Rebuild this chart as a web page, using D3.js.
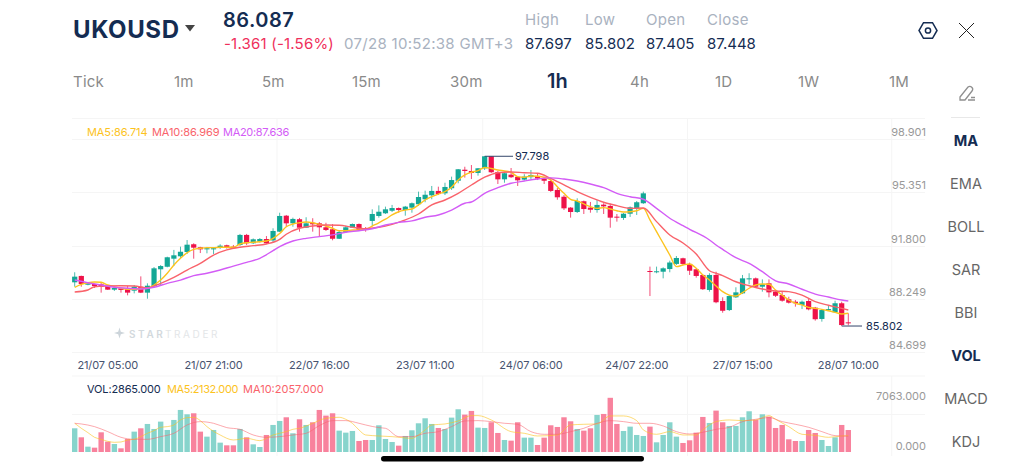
<!DOCTYPE html>
<html>
<head>
<meta charset="utf-8">
<script src="https://d3js.org/d3.v7.min.js"></script>
<style>
html, body { margin: 0; padding: 0; background: #fff; overflow: hidden; }
svg { display: block; font-family: Inter, "Open Sans", sans-serif; }
</style>
</head>
<body>
<svg id="chart" width="1024" height="471"></svg>
<script>
// candles
const opens = [88.89,89.34,88.72,88.77,88.75,88.63,88.37,88.47,88.40,88.30,88.58,88.16,88.63,89.81,89.99,90.56,90.73,91.03,91.58,91.37,91.22,91.22,91.34,91.51,91.41,91.53,92.24,91.65,91.76,91.95,91.85,92.47,93.60,93.06,93.35,92.75,93.10,93.06,92.78,92.64,91.97,92.45,92.75,93.01,92.71,93.23,93.58,93.77,93.95,94.14,94.00,94.17,94.41,94.76,95.04,95.35,95.18,95.54,96.07,96.85,96.76,96.62,96.95,97.80,96.69,96.17,96.50,96.34,96.15,96.32,96.41,96.24,96.05,95.42,94.94,94.17,93.86,94.62,94.17,94.00,94.38,94.29,93.53,93.44,93.74,94.12,94.48,89.69,89.62,89.64,89.83,90.19,90.59,90.19,89.81,89.41,88.35,89.41,87.57,86.93,87.83,88.11,89.10,89.17,88.58,88.82,88.23,87.99,87.69,87.52,87.29,87.57,87.10,86.30,86.91,86.77,87.41,86.06];
const closes = [89.29,88.77,88.82,88.63,88.58,88.37,88.49,88.35,88.16,88.58,88.16,88.65,89.88,90.04,90.66,90.80,91.05,91.55,91.34,91.22,91.30,91.30,91.48,91.37,91.35,92.24,91.65,91.93,91.95,91.65,92.52,93.58,93.06,93.37,92.75,93.06,92.99,92.78,92.59,91.97,92.45,92.78,93.01,92.59,92.64,93.72,93.88,94.05,94.14,94.00,94.24,94.48,94.92,95.08,95.35,95.13,95.63,96.12,96.88,96.76,96.62,96.95,97.80,96.67,96.17,96.60,96.32,96.10,96.36,96.48,96.22,96.07,95.35,94.90,94.12,93.86,94.64,94.07,94.02,94.36,94.26,93.46,93.46,93.74,94.19,94.55,95.18,89.62,89.67,89.88,90.29,90.61,90.19,89.71,89.34,88.40,89.41,87.48,86.88,87.92,88.18,89.17,89.17,88.58,88.75,88.18,87.94,87.59,87.45,87.41,87.52,86.98,86.28,86.93,87.00,87.41,85.87,85.99];
const highs = [89.60,89.36,88.86,88.80,88.84,88.70,88.56,88.50,88.63,88.70,89.31,88.82,89.97,90.11,90.70,91.18,91.41,91.88,91.65,91.40,91.39,91.34,91.58,91.55,91.53,92.31,92.31,91.99,92.02,92.16,92.71,93.81,93.65,93.46,93.44,93.49,93.42,93.15,93.10,93.01,92.52,92.89,93.05,93.05,92.80,94.05,94.33,94.24,94.36,94.18,94.29,94.53,95.30,95.37,95.70,95.65,95.93,96.36,96.90,97.06,97.18,96.97,97.80,97.80,96.76,96.71,96.97,96.37,96.53,96.83,96.55,96.34,96.27,95.56,95.06,94.21,94.83,94.67,94.57,94.71,94.48,94.45,93.72,93.79,94.25,94.64,95.30,90.00,90.00,89.95,90.42,90.75,90.63,90.28,89.85,89.43,89.53,89.64,87.83,87.99,88.54,89.41,89.53,89.23,89.10,89.10,88.27,88.23,87.87,87.64,87.60,87.78,87.15,87.00,87.22,87.59,87.52,86.70];
const lows = [88.58,88.58,88.68,88.49,88.16,88.35,88.28,88.16,87.97,88.11,88.13,87.73,88.56,88.63,89.95,90.04,90.59,90.89,90.56,90.96,90.94,90.89,91.25,91.27,91.25,91.46,91.53,91.60,91.70,91.60,91.67,92.45,92.82,92.82,92.47,92.73,92.47,92.12,92.52,91.86,91.95,92.38,92.73,92.52,92.47,92.89,93.46,93.72,93.86,93.81,93.60,93.81,94.29,94.55,94.76,95.06,95.06,95.42,95.89,96.29,96.19,96.43,96.83,96.62,95.84,95.93,96.27,95.70,96.09,96.17,96.12,95.84,95.28,94.73,94.00,93.46,93.79,93.72,93.81,93.81,93.72,92.75,93.18,93.30,93.51,93.65,94.43,87.92,89.53,89.17,89.60,90.11,90.11,89.41,89.22,88.35,88.23,87.41,86.74,86.86,87.78,88.06,88.75,88.49,88.23,87.83,87.85,87.52,87.39,87.17,87.00,86.91,86.18,86.11,86.86,86.72,85.80,85.85];

const ma5 = [88.54,88.75,88.86,88.91,88.89,88.70,88.58,88.47,88.40,88.40,88.44,88.47,88.70,89.05,89.53,90.11,90.59,90.98,91.22,91.30,91.34,91.34,91.37,91.37,91.37,91.60,91.69,91.72,91.76,91.81,92.00,92.34,92.82,93.01,93.10,93.15,93.10,92.99,92.87,92.71,92.54,92.54,92.59,92.59,92.64,92.87,93.10,93.35,93.65,93.88,94.00,94.07,94.36,94.71,94.94,95.13,95.30,95.61,96.12,96.48,96.67,96.78,97.01,96.94,96.83,96.76,96.67,96.36,96.32,96.41,96.39,96.32,96.12,95.65,95.18,94.76,94.64,94.43,94.24,94.12,94.17,94.07,93.95,93.86,93.88,93.95,94.12,93.30,92.47,91.65,90.82,90.00,90.11,90.19,89.88,89.41,89.05,88.63,88.23,87.99,87.92,88.16,88.47,88.70,88.77,88.75,88.35,87.99,87.64,87.41,87.29,87.12,87.05,86.98,86.88,86.77,86.65,86.70];

const ma10Idx = [0,2,3,5,7,9,11,13,15,17,19,21,23,25,27,29,31,32,34,36,38,40,42,44,46,48,50,52,54,56,58,60,62,64,66,68,70,72,74,76,78,80,82,84,86,88,90,92,94,96,97,98,100,102,104,106,108,110,112,114,116,117];
const ma10 = [88.21,88.35,88.58,88.63,88.65,88.63,88.49,88.82,89.24,89.76,90.23,90.82,91.18,91.37,91.48,91.60,91.93,92.29,92.71,92.87,92.94,92.92,92.78,92.68,92.78,92.99,93.30,93.72,94.36,94.71,95.18,95.77,96.32,96.64,96.69,96.64,96.60,96.24,95.77,95.30,94.90,94.55,94.31,94.12,94.14,93.18,92.24,91.67,90.89,89.71,89.53,89.36,88.93,88.65,88.42,88.28,88.23,87.99,87.52,87.27,87.05,86.93];

const ma20Idx = [0,2,4,6,8,10,12,14,16,18,20,22,24,26,28,30,31,33,35,37,39,41,43,45,47,49,51,53,55,57,59,60,62,64,66,68,70,72,74,76,78,80,82,84,86,88,90,92,93,96,97,98,100,102,104,106,108,110,112,114,116,117];
const ma20 = [89.05,88.86,88.70,88.54,88.47,88.42,88.54,88.82,89.05,89.36,89.53,89.76,90.04,90.30,90.59,91.13,91.41,91.81,92.00,92.12,92.24,92.43,92.54,92.68,92.94,93.13,93.23,93.49,93.65,94.00,94.48,94.57,95.18,95.58,95.89,96.05,96.19,96.27,96.19,96.05,95.84,95.58,95.18,94.94,94.76,94.12,93.42,92.89,92.64,91.88,91.53,91.22,90.63,90.23,89.64,89.00,88.77,88.40,88.06,87.85,87.64,87.57];

const volumes = [3089,1914,696,566,2567,1349,1044,479,1697,2654,3089,3654,3002,3959,2871,4176,5481,4916,5046,2654,2001,2871,1218,870,870,3002,1914,1001,653,2219,3524,4046,4524,2436,4263,3524,3872,5481,4742,5046,2784,2523,2741,1436,1566,1566,3480,1697,1305,827,2088,2828,3741,4394,3654,3132,3002,4481,5568,4872,5351,3176,3132,3872,2480,1566,1479,3872,1871,1871,914,1871,3480,3263,4524,4002,3002,2784,3089,4829,4959,7063,3654,2741,3306,2219,2088,3306,1262,2219,3872,2001,1175,1523,2523,4568,3785,5394,3872,3393,3393,4524,5307,4176,4916,4611,3132,3524,1653,1436,1436,2871,2480,1566,783,1914,3524,2865];

const volMa5Idx = [0,1,2,3,4,5,6,7,8,9,10,11,12,13,14,15,16,17,18,19,20,22,24,26,28,30,32,33,34,36,38,40,41,42,43,44,46,48,51,52,53,54,56,58,60,61,63,66,68,70,73,75,77,79,81,83,85,86,88,90,92,94,95,96,97,99,101,103,105,106,108,110,112,114,116,117];
const volMa5 = [3741,3089,2523,1914,1653,1392,1262,1305,1566,1653,2001,2436,2784,3219,3306,3524,4176,4481,4524,4089,3306,2219,1566,1784,1479,2219,2654,2958,3089,3741,4394,4524,4263,3741,2871,2219,2088,2001,1784,2219,2871,3524,3654,4046,4742,4742,4176,2654,2436,2088,2219,3524,3611,3654,4698,4698,4089,2871,2306,2654,2219,2219,2871,3524,3959,4176,4089,4176,4742,4263,3306,2306,2175,1914,2088,2132];

const volMa10Idx = [0,1,3,5,7,9,11,13,15,17,19,21,23,25,27,29,31,33,35,37,39,41,43,44,46,47,49,51,53,55,57,59,61,63,65,67,69,71,73,75,77,79,81,83,85,87,89,91,93,95,97,99,101,103,105,107,109,111,113,115,117];
const volMa10 = [3741,3654,3306,2654,1914,1653,1653,2001,2436,3524,3959,3741,3176,2958,2219,1914,2001,2219,2436,3437,4089,4089,3741,3524,3176,3089,2001,2001,2436,2654,3306,4046,4089,3959,3741,3611,2654,2306,2306,2654,3089,3741,4089,3959,3741,3741,3393,2654,2349,2567,2958,3219,3959,4263,4481,3959,3611,3219,2654,2132,2057];

const xTickIdx = [5,21,37,53,69,85,101,117];
const xTickLabels = ["21/07 05:00","21/07 21:00","22/07 16:00","23/07 11:00","24/07 06:00","24/07 22:00","27/07 15:00","28/07 10:00"];
const priceTicks = [98.901,95.351,91.800,88.249,84.699];
const gridX = [277,482.7,687.5,891.7];
const timeframes = ["Tick","1m","5m","15m","30m","1h","4h","1D","1W","1M"];
const timeframeX = [73,174,262,352,450,547,630,715,798,889];
const indicators = ["MA","EMA","BOLL","SAR","BBI","VOL","MACD","KDJ"];

const UP = "#13a796", DOWN = "#ee1249", NAVY = "#142c52", GREY = "#a9b2c0";
const C5 = "#fcc31e", C10 = "#f9636b", C20 = "#d35cf6";

const svg = d3.select("#chart");

const xScale = d3.scalePoint().domain(d3.range(opens.length)).range([74.7, 848.3]);
const yScale = d3.scaleLinear().domain([85.802, 97.798]).range([326, 156.3]);
const gridY = d3.scaleLinear().domain([84.699, 98.901]).range([352, 139]);
const volY = d3.scaleLinear().domain([0, 7063]).range([452, 397.8]);

function label(x, y, str, size, color, opts) {
    opts = opts || {};
    return svg.append("text")
        .attr("x", x).attr("y", y)
        .attr("font-size", size)
        .attr("fill", color)
        .attr("font-weight", opts.weight || 400)
        .attr("text-anchor", opts.anchor || "start")
        .attr("letter-spacing", opts.spacing || 0)
        .text(str);
}

function drawHeader() {
    label(73, 38, "UKOUSD", 24, NAVY, {weight: 700, spacing: 0.6});
    svg.append("path").attr("d", "M185,25 L195,25 L190,31.5 Z").attr("fill", "#444");
    label(223, 27, "86.087", 20, NAVY, {weight: 600, spacing: 0.5});
    label(224, 49, "-1.361 (-1.56%)", 15, "#ef2f5b", {spacing: 0.2});
    label(344, 49, "07/28 10:52:38 GMT+3", 15, GREY, {spacing: 0.3});
    const heads = ["High","Low","Open","Close"], vals = ["87.697","85.802","87.405","87.448"];
    const hx = [525,585,646,707];
    heads.forEach((h, i) => {
        label(hx[i], 25, h, 15, GREY, {spacing: 0.3});
        label(hx[i], 49, vals[i], 15, NAVY, {spacing: 0});
    });

    // settings and close icons
    const hex = d3.range(6).map(i => [928 + 9 * Math.cos(i * Math.PI / 3), 30.5 + 9 * Math.sin(i * Math.PI / 3)]);
    svg.append("path").attr("d", d3.line()(hex) + "Z").attr("fill", "none").attr("stroke", NAVY).attr("stroke-width", 1.5);
    svg.append("circle").attr("cx", 928).attr("cy", 30.5).attr("r", 2.6).attr("fill", "none").attr("stroke", NAVY).attr("stroke-width", 1.5);
    svg.append("path").attr("d", "M959,23 L974,38 M974,23 L959,38").attr("stroke", "#222").attr("stroke-width", 1).attr("fill", "none");

    timeframes.forEach((t, i) => {
        if (t === "1h") label(timeframeX[i], 88, t, 20, NAVY, {weight: 600});
        else label(timeframeX[i], 87, t, 15, "#8a8a8a", {spacing: 0.2});
    });

    // draw tool icon and side menu
    svg.append("path").attr("d", "M960,97 L968,87 Q970,85.5 972,87.5 Q973.5,89 972,91 L965,100 L960,100 Z M968,100 L975,100 M971,97.5 L975,97.5")
        .attr("fill", "none").attr("stroke", "#8f8f8f").attr("stroke-width", 1.3);
    svg.append("line").attr("x1", 951).attr("x2", 980).attr("y1", 117.5).attr("y2", 117.5).attr("stroke", "#e8e8e8");
    indicators.forEach((t, i) => {
        const on = t === "MA" || t === "VOL";
        label(966, 146 + i * 43, t, 14.5, on ? NAVY : "#666", {weight: on ? 700 : 400, anchor: "middle"});
    });
}

function drawGrid() {
    const g = svg.append("g").attr("stroke", "#f5f5f5").attr("stroke-width", 1);
    const paneLines = [118.5, 376, 414.5];
    paneLines.forEach(y => {
        g.append("line").attr("x1", 72).attr("x2", 925).attr("y1", y).attr("y2", y);
    });
    priceTicks.forEach(p => {
        const y = Math.round(gridY(p)) + 0.5;
        g.append("line").attr("x1", 72).attr("x2", 925).attr("y1", y).attr("y2", y);
        label(926, y - 3.5, d3.format(".3f")(p), 11, "#999", {anchor: "end"});
    });
    gridX.forEach(x => {
        g.append("line").attr("x1", x).attr("x2", x).attr("y1", 118).attr("y2", 352);
        g.append("line").attr("x1", x).attr("x2", x).attr("y1", 376).attr("y2", 456);
    });
    xTickIdx.forEach((d, i) => {
        label(xScale(d), 369, xTickLabels[i], 11, "#47536f", {anchor: "middle", spacing: -0.1});
    });
}

function drawWatermark() {
    svg.append("path").attr("d", "M119.5,327.5 L120.8,331.7 L125,333 L120.8,334.3 L119.5,338.5 L118.2,334.3 L114,333 L118.2,331.7 Z").attr("fill", "#ccd4da");
    label(129, 337.5, "STAR", 10, "#d3d9dd", {weight: 600, spacing: 2.6});
    label(165, 337.5, "TRADER", 10, "#e3e6e8", {spacing: 2.6});
}

function drawCandles() {
    const g = svg.append("g");
    const idx = d3.range(opens.length);
    const col = i => closes[i] >= opens[i] ? UP : DOWN;

    g.selectAll(".wick").data(idx).join("line")
        .attr("class", "wick")
        .attr("x1", xScale).attr("x2", xScale)
        .attr("y1", i => yScale(highs[i]))
        .attr("y2", i => yScale(lows[i]))
        .attr("stroke", col)
        .attr("stroke-opacity", 0.75)
        .attr("stroke-width", 1);

    g.selectAll(".body").data(idx).join("rect")
        .attr("class", "body")
        .attr("x", i => xScale(i) - 2.6)
        .attr("width", 5.2)
        .attr("y", i => yScale(Math.max(opens[i], closes[i])))
        .attr("height", i => Math.max(1, Math.abs(yScale(opens[i]) - yScale(closes[i]))))
        .attr("fill", col);
}

function drawLine(idx, vals, y, color, width, opacity) {
    const line = d3.line()
        .x(d => xScale(d[0]))
        .y(d => y(d[1]))
        .curve(d3.curveMonotoneX);
    svg.append("path")
        .attr("d", line(idx.map((d, i) => [d, vals[i]])))
        .attr("fill", "none")
        .attr("stroke", color)
        .attr("stroke-opacity", opacity)
        .attr("stroke-width", width);
}

function drawMarkers() {
    const hi = d3.max(highs), lo = d3.min(lows);
    const hiI = highs.indexOf(hi), loI = lows.indexOf(lo);
    svg.append("line").attr("x1", xScale(hiI)).attr("x2", 513).attr("y1", yScale(hi)).attr("y2", yScale(hi)).attr("stroke", "#33456a");
    label(515, yScale(hi) + 4, "97.798", 11, NAVY);
    svg.append("line").attr("x1", xScale(loI)).attr("x2", 862).attr("y1", yScale(lo)).attr("y2", yScale(lo)).attr("stroke", "#33456a");
    label(866, yScale(lo) + 4, "85.802", 11, NAVY);
}

function drawVolume() {
    const idx = d3.range(volumes.length);
    svg.append("g").selectAll("rect").data(idx).join("rect")
        .attr("x", i => xScale(i) - 2.7)
        .attr("width", 5.4)
        .attr("y", i => volY(volumes[i]))
        .attr("height", i => volY(0) - volY(volumes[i]))
        .attr("fill", i => closes[i] >= opens[i] ? "#87d4cc" : "#f8829d");
    drawLine(volMa5Idx, volMa5, volY, C5, 1, 0.6);
    drawLine(volMa10Idx, volMa10, volY, C10, 1, 0.55);

    label(87, 393, "VOL:2865.000", 11, NAVY, {spacing: -0.15});
    label(167, 393, "MA5:2132.000", 11, C5, {spacing: -0.4});
    label(243, 393, "MA10:2057.000", 11, C10);
    label(926, 400, "7063.000", 11, "#999", {anchor: "end"});
    label(926, 450, "0.000", 11, "#999", {anchor: "end"});
}

drawHeader();
drawGrid();
drawWatermark();
drawCandles();
drawLine(d3.range(ma5.length), ma5, yScale, C5, 1.4, 1);
drawLine(ma10Idx, ma10, yScale, C10, 1.4, 1);
drawLine(ma20Idx, ma20, yScale, C20, 1.4, 1);
drawMarkers();
drawVolume();

label(87, 136, "MA5:86.714", 11, C5, {spacing: -0.1});
label(152, 136, "MA10:86.969", 11, C10, {spacing: -0.1});
label(223, 136, "MA20:87.636", 11, C20, {spacing: -0.3});

// home indicator
svg.append("rect").attr("x", 381).attr("y", 456).attr("width", 263).attr("height", 5.5).attr("rx", 2.75).attr("fill", "#000");
</script>
</body>
</html>
